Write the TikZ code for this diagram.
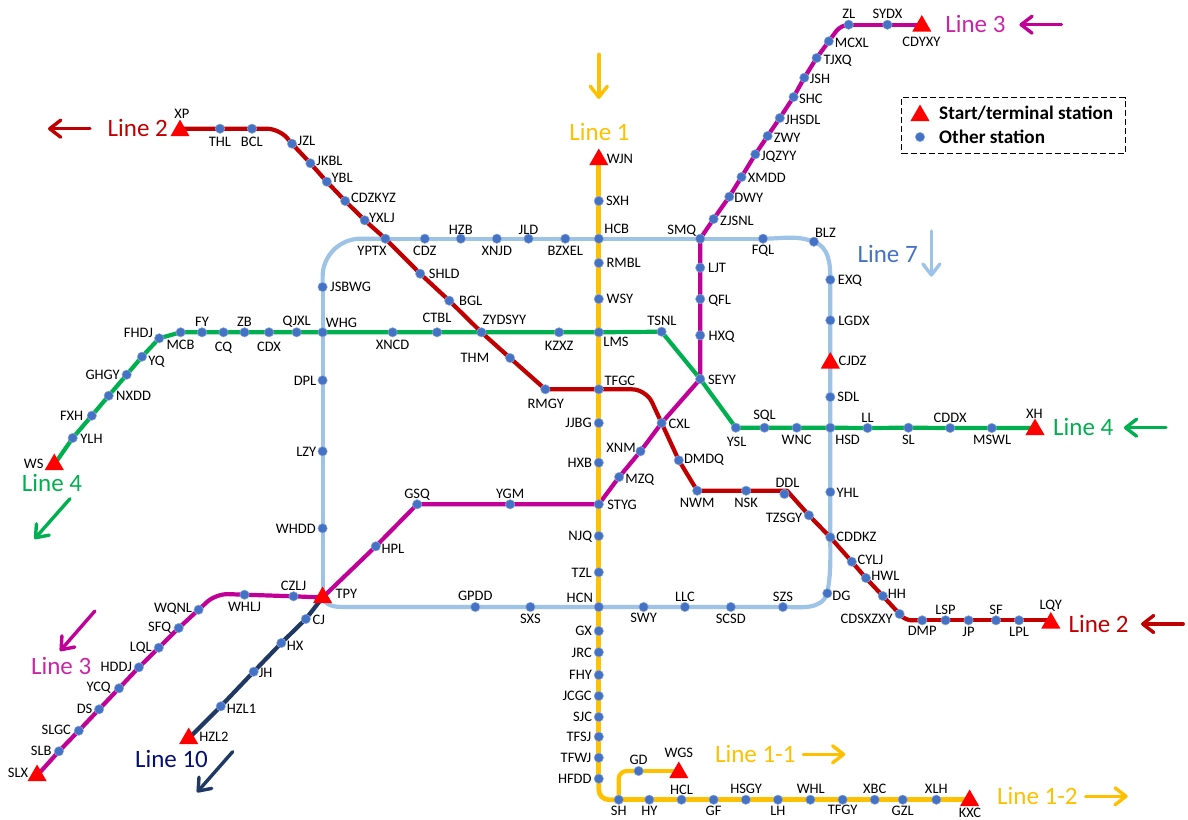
\documentclass[tikz,border=0pt]{standalone}
\usepackage{fontspec}
\setmainfont{Carlito}
\usetikzlibrary{arrows.meta,shapes.geometric,backgrounds}

\definecolor{lineone}{HTML}{FFC000}
\definecolor{linetwo}{HTML}{C00000}
\definecolor{linethree}{HTML}{C00096}
\definecolor{linefour}{HTML}{00B050}
\definecolor{lineseven}{HTML}{9DC3E6}
\definecolor{lineten}{HTML}{1F3864}
\definecolor{dotblue}{HTML}{4472C4}

\tikzset{
  stn/.style={circle, fill=dotblue, draw=dotblue!60, line width=0.5pt, minimum size=9.4pt, inner sep=0pt},
  term/.style={regular polygon, regular polygon sides=3, fill=red, minimum size=22pt, inner sep=0pt},
  txt/.style={inner sep=0pt, font=\fontsize{14.5}{16}\selectfont, text height=9.5pt, text depth=0pt},
  linelabel/.style={inner sep=0pt, font=\fontsize{25}{28}\selectfont, text height=16.5pt, text depth=0pt},
  legendtxt/.style={inner sep=0pt, anchor=west, font=\fontsize{19.2}{22}\bfseries\selectfont},
  metro/.style={line width=4.2pt, line join=round},
  dirarrow/.style={line width=3.4pt, line cap=round, -{Straight Barb[length=11pt,width=17pt,line width=3.4pt,round]}}
}

\begin{document}
\begin{tikzpicture}[x=1pt, y=-1pt]
  \useasboundingbox (0,0) rectangle (1188,819);

  % line 1
  \node[term] (WJN) at (598.8,159.5) {}; \node[txt] (tWJN) at (619.9,159) {WJN};
  \node[stn] (SXH) at (598.8,201) {}; \node[txt] (tSXH) at (617.6,201) {SXH};
  \node[stn] (HCB) at (598.8,238.7) {}; \node[txt] (tHCB) at (616.8,229) {HCB};
  \node[stn] (RMBL) at (598.8,263) {}; \node[txt] (tRMBL) at (623.7,263) {RMBL};
  \node[stn] (WSY) at (598.8,299) {}; \node[txt] (tWSY) at (619.9,299) {WSY};
  \node[stn] (LMS) at (598.8,332.3) {}; \node[txt] (tLMS) at (616,341.7) {LMS};
  \node[stn] (TFGC) at (598.8,389.3) {}; \node[txt] (tTFGC) at (619.9,380.3) {TFGC};
  \node[stn] (JJBG) at (598.8,423) {}; \node[txt] (tJJBG) at (578.6,423) {JJBG};
  \node[stn] (HXB) at (598.8,462.7) {}; \node[txt] (tHXB) at (579.8,462.7) {HXB};
  \node[stn] (STYG) at (598.8,504.3) {}; \node[txt] (tSTYG) at (622.1,504.3) {STYG};
  \node[stn] (NJQ) at (598.8,536) {}; \node[txt] (tNJQ) at (580.2,536) {NJQ};
  \node[stn] (TZL) at (598.8,572.3) {}; \node[txt] (tTZL) at (581.7,572.3) {TZL};
  \node[stn] (HCN) at (598.8,607) {}; \node[txt] (tHCN) at (579.8,597.3) {HCN};
  \node[stn] (GX) at (598.8,631) {}; \node[txt] (tGX) at (583.6,631) {GX};
  \node[stn] (JRC) at (598.8,652.3) {}; \node[txt] (tJRC) at (581.7,652.3) {JRC};
  \node[stn] (FHY) at (598.8,675) {}; \node[txt] (tFHY) at (580.6,675) {FHY};
  \node[stn] (JCGC) at (598.8,696) {}; \node[txt] (tJCGC) at (577.1,696) {JCGC};
  \node[stn] (SJC) at (598.8,717) {}; \node[txt] (tSJC) at (582.5,717) {SJC};
  \node[stn] (TFSJ) at (598.8,736.7) {}; \node[txt] (tTFSJ) at (579,736.7) {TFSJ};
  \node[stn] (TFWJ) at (598.8,757.7) {}; \node[txt] (tTFWJ) at (576,757.7) {TFWJ};
  \node[stn] (HFDD) at (598.8,778.7) {}; \node[txt] (tHFDD) at (574.8,778.7) {HFDD};
  \node[stn] (SH) at (618.7,799.7) {}; \node[txt] (tSH) at (618.7,810.7) {SH};
  \node[stn] (HY) at (649.3,799.7) {}; \node[txt] (tHY) at (649.3,810.7) {HY};
  \node[stn] (HCL) at (681.5,799.7) {}; \node[txt] (tHCL) at (681.5,789.3) {HCL};
  \node[stn] (GF) at (713.6,799.7) {}; \node[txt] (tGF) at (713.6,810.7) {GF};
  \node[stn] (HSGY) at (745.8,799.7) {}; \node[txt] (tHSGY) at (746.1,788.3) {HSGY};
  \node[stn] (LH) at (777.9,799.7) {}; \node[txt] (tLH) at (777.9,810.7) {LH};
  \node[stn] (WHL) at (810.4,799.7) {}; \node[txt] (tWHL) at (810.8,788.3) {WHL};
  \node[stn] (TFGY) at (842.6,799.7) {}; \node[txt] (tTFGY) at (842.6,810) {TFGY};
  \node[stn] (XBC) at (874.7,799.7) {}; \node[txt] (tXBC) at (874.7,788.3) {XBC};
  \node[stn] (GZL) at (902.7,799.7) {}; \node[txt] (tGZL) at (902.7,810.7) {GZL};
  \node[stn] (XLH) at (936.3,799.7) {}; \node[txt] (tXLH) at (936.3,788.3) {XLH};
  \node[term] (KXC) at (969.6,800.5) {}; \node[txt] (tKXC) at (970,812.7) {KXC};
  \node[stn] (GD) at (638.6,771) {}; \node[txt] (tGD) at (638.6,759.7) {GD};
  \node[term] (WGS) at (678.8,772.5) {}; \node[txt] (tWGS) at (678.8,752.3) {WGS};

  % line 2
  \node[term] (XP) at (180,130.6) {}; \node[txt] (tXP) at (181.8,113.7) {XP};
  \node[stn] (THL) at (220,128.7) {}; \node[txt] (tTHL) at (220,141.7) {THL};
  \node[stn] (BCL) at (252,128.7) {}; \node[txt] (tBCL) at (251.8,141.7) {BCL};
  \node[stn] (JZL) at (292,143.7) {}; \node[txt] (tJZL) at (306.5,140.7) {JZL};
  \node[stn] (JKBL) at (310.4,163.3) {}; \node[txt] (tJKBL) at (329.5,160.3) {JKBL};
  \node[stn] (YBL) at (326.8,181.7) {}; \node[txt] (tYBL) at (342.1,178) {YBL};
  \node[stn] (CDZKYZ) at (345.2,201) {}; \node[txt] (tCDZKYZ) at (373.5,197.7) {CDZKYZ};
  \node[stn] (YXLJ) at (364.7,220.3) {}; \node[txt] (tYXLJ) at (381.9,217.3) {YXLJ};
  \node[stn] (YPTX) at (385.4,238.7) {}; \node[txt] (tYPTX) at (372,250.3) {YPTX};
  \node[stn] (SHLD) at (420.2,273.7) {}; \node[txt] (tSHLD) at (444.3,273.7) {SHLD};
  \node[stn] (BGL) at (449.3,300.7) {}; \node[txt] (tBGL) at (470.7,300.7) {BGL};
  \node[stn] (ZYDSYY) at (481.4,332.3) {}; \node[txt] (tZYDSYY) at (504.4,320) {ZYDSYY};
  \node[stn] (THM) at (510.1,358) {}; \node[txt] (tTHM) at (474.9,358) {THM};
  \node[stn] (RMGY) at (545.3,389.3) {}; \node[txt] (tRMGY) at (545.7,403.3) {RMGY};
  \node[stn] (CXL) at (661.6,423) {}; \node[txt] (tCXL) at (679.2,423.3) {CXL};
  \node[stn] (DMDQ) at (678.8,460.3) {}; \node[txt] (tDMDQ) at (704,459) {DMDQ};
  \node[stn] (NWM) at (697.2,490.7) {}; \node[txt] (tNWM) at (697.2,503) {NWM};
  \node[stn] (NSK) at (746.1,490.7) {}; \node[txt] (tNSK) at (746.1,503) {NSK};
  \node[stn] (DDL) at (784.4,494) {}; \node[txt] (tDDL) at (787.5,483) {DDL};
  \node[stn] (TZSGY) at (808.9,515.3) {}; \node[txt] (tTZSGY) at (784,518) {TZSGY};
  \node[stn] (CDDKZ) at (830.3,537.3) {}; \node[txt] (tCDDKZ) at (856.4,536.7) {CDDKZ};
  \node[stn] (CYLJ) at (851.8,561.7) {}; \node[txt] (tCYLJ) at (870.5,559.7) {CYLJ};
  \node[stn] (HWL) at (865.9,578) {}; \node[txt] (tHWL) at (885.4,576) {HWL};
  \node[stn] (HH) at (882.8,596) {}; \node[txt] (tHH) at (896.9,594) {HH};
  \node[stn] (CDSXZXY) at (899.6,614) {}; \node[txt] (tCDSXZXY) at (866.7,618.3) {CDSXZXY};
  \node[stn] (DMP) at (922.2,620.3) {}; \node[txt] (tDMP) at (922.2,630.7) {DMP};
  \node[stn] (LSP) at (945.5,620.3) {}; \node[txt] (tLSP) at (945.5,610) {LSP};
  \node[stn] (JP) at (968.5,620.3) {}; \node[txt] (tJP) at (968.5,632) {JP};
  \node[stn] (SF) at (996,620.3) {}; \node[txt] (tSF) at (996,610) {SF};
  \node[stn] (LPL) at (1019,620.3) {}; \node[txt] (tLPL) at (1019,631.7) {LPL};
  \node[term] (LQY) at (1050.8,623) {}; \node[txt] (tLQY) at (1050.8,605) {LQY};

  % line 3
  \node[term] (CDYXY) at (921.8,26) {}; \node[txt] (tCDYXY) at (921.4,42) {CDYXY};
  \node[stn] (SYDX) at (887.4,24.7) {}; \node[txt] (tSYDX) at (887.4,13.7) {SYDX};
  \node[stn] (ZL) at (848.7,24.7) {}; \node[txt] (tZL) at (848.7,14) {ZL};
  \node[stn] (MCXL) at (828.8,41.3) {}; \node[txt] (tMCXL) at (851.8,42.3) {MCXL};
  \node[stn] (TJXQ) at (816.6,58) {}; \node[txt] (tTJXQ) at (837.6,60) {TJXQ};
  \node[stn] (JSH) at (804.3,77.7) {}; \node[txt] (tJSH) at (820,78.7) {JSH};
  \node[stn] (SHC) at (793.6,97) {}; \node[txt] (tSHC) at (810.8,99) {SHC};
  \node[stn] (JHSDL) at (779.8,118) {}; \node[txt] (tJHSDL) at (802.8,120) {JHSDL};
  \node[stn] (ZWY) at (767.6,136) {}; \node[txt] (tZWY) at (787.1,137.7) {ZWY};
  \node[stn] (JQZYY) at (755.3,154.3) {}; \node[txt] (tJQZYY) at (778.7,155.3) {JQZYY};
  \node[stn] (XMDD) at (741.5,177) {}; \node[txt] (tXMDD) at (766.8,178) {XMDD};
  \node[stn] (DWY) at (729.3,196.7) {}; \node[txt] (tDWY) at (748.8,197.7) {DWY};
  \node[stn] (ZJSNL) at (713.6,219) {}; \node[txt] (tZJSNL) at (737,220.3) {ZJSNL};
  \node[stn] (SMQ) at (700.2,238.7) {}; \node[txt] (tSMQ) at (681.8,229.7) {SMQ};
  \node[stn] (LJT) at (700.2,267.7) {}; \node[txt] (tLJT) at (717,267.7) {LJT};
  \node[stn] (QFL) at (700.2,299) {}; \node[txt] (tQFL) at (719.7,299.3) {QFL};
  \node[stn] (HXQ) at (700.2,335.3) {}; \node[txt] (tHXQ) at (721.6,335.3) {HXQ};
  \node[stn] (SEYY) at (700.2,379) {}; \node[txt] (tSEYY) at (722,379.3) {SEYY};
  \node[stn] (XNM) at (640.5,451.3) {}; \node[txt] (tXNM) at (621,448) {XNM};
  \node[stn] (MZQ) at (619.1,477) {}; \node[txt] (tMZQ) at (639.8,478.3) {MZQ};
  \node[stn] (YGM) at (510.1,504.3) {}; \node[txt] (tYGM) at (510.1,493.7) {YGM};
  \node[stn] (GSQ) at (417.1,504.3) {}; \node[txt] (tGSQ) at (417.1,493.7) {GSQ};
  \node[stn] (HPL) at (375.8,546.3) {}; \node[txt] (tHPL) at (393,549) {HPL};
  \node[term] (TPY) at (322.6,597.5) {}; \node[txt] (tTPY) at (346.3,593.3) {TPY};
  \node[stn] (CZLJ) at (293.5,596.3) {}; \node[txt] (tCZLJ) at (293.5,585.3) {CZLJ};
  \node[stn] (WHLJ) at (244.5,594.7) {}; \node[txt] (tWHLJ) at (244.5,606.7) {WHLJ};
  \node[stn] (WQNL) at (198.6,609.7) {}; \node[txt] (tWQNL) at (173,607.3) {WQNL};
  \node[stn] (SFQ) at (178.7,628) {}; \node[txt] (tSFQ) at (159.6,626.3) {SFQ};
  \node[stn] (LQL) at (158.8,647.7) {}; \node[txt] (tLQL) at (140.8,646.7) {LQL};
  \node[stn] (HDDJ) at (138.9,667.3) {}; \node[txt] (tHDDJ) at (116.3,666.3) {HDDJ};
  \node[stn] (YCQ) at (119,688.3) {}; \node[txt] (tYCQ) at (98.7,686.3) {YCQ};
  \node[stn] (DS) at (99.1,709.3) {}; \node[txt] (tDS) at (84.6,708.7) {DS};
  \node[stn] (SLGC) at (78.8,730.7) {}; \node[txt] (tSLGC) at (56.3,730) {SLGC};
  \node[stn] (SLB) at (58.9,751.3) {}; \node[txt] (tSLB) at (41.3,751) {SLB};
  \node[term] (SLX) at (37.1,775.5) {}; \node[txt] (tSLX) at (18,772.7) {SLX};

  % line 4
  \node[term] (WS) at (54.3,464.5) {}; \node[txt] (tWS) at (33.7,463.3) {WS};
  \node[stn] (YLH) at (72.7,438) {}; \node[txt] (tYLH) at (91.5,439) {YLH};
  \node[stn] (FXH) at (91.8,415.7) {}; \node[txt] (tFXH) at (71.6,416) {FXH};
  \node[stn] (NXDD) at (108.7,395.7) {}; \node[txt] (tNXDD) at (133.6,395.7) {NXDD};
  \node[stn] (GHGY) at (126.7,374.7) {}; \node[txt] (tGHGY) at (102.6,374.7) {GHGY};
  \node[stn] (YQ) at (142,356.7) {}; \node[txt] (tYQ) at (156.5,360.7) {YQ};
  \node[stn] (FHDJ) at (159.2,338.3) {}; \node[txt] (tFHDJ) at (138.5,332.7) {FHDJ};
  \node[stn] (MCB) at (180.6,332.3) {}; \node[txt] (tMCB) at (180.6,345) {MCB};
  \node[stn] (FY) at (202,332.3) {}; \node[txt] (tFY) at (202,322) {FY};
  \node[stn] (CQ) at (223.5,332.3) {}; \node[txt] (tCQ) at (223.5,346.3) {CQ};
  \node[stn] (ZB) at (244.5,332.3) {}; \node[txt] (tZB) at (244.5,322) {ZB};
  \node[stn] (CDX) at (269,332.3) {}; \node[txt] (tCDX) at (269,346.3) {CDX};
  \node[stn] (QJXL) at (296.6,332.3) {}; \node[txt] (tQJXL) at (296.6,320.7) {QJXL};
  \node[stn] (WHG) at (322.6,332.3) {}; \node[txt] (tWHG) at (341.4,322.7) {WHG};
  \node[stn] (XNCD) at (392.6,332.3) {}; \node[txt] (tXNCD) at (392.6,344.3) {XNCD};
  \node[stn] (CTBL) at (437,332.3) {}; \node[txt] (tCTBL) at (437,317.7) {CTBL};
  \node[stn] (KZXZ) at (559,332.3) {}; \node[txt] (tKZXZ) at (559.1,345.3) {KZXZ};
  \node[stn] (TSNL) at (661.6,331.7) {}; \node[txt] (tTSNL) at (662,320.7) {TSNL};
  \node[stn] (YSL) at (735.8,427.7) {}; \node[txt] (tYSL) at (736.6,441.7) {YSL};
  \node[stn] (SQL) at (764.5,427.7) {}; \node[txt] (tSQL) at (764.5,415) {SQL};
  \node[stn] (WNC) at (796.7,427.7) {}; \node[txt] (tWNC) at (796.7,440) {WNC};
  \node[stn] (HSD) at (830.3,427.7) {}; \node[txt] (tHSD) at (847.6,440) {HSD};
  \node[stn] (LL) at (867.5,428) {}; \node[txt] (tLL) at (867.5,418) {LL};
  \node[stn] (SL) at (908.4,427.7) {}; \node[txt] (tSL) at (908.4,440) {SL};
  \node[stn] (CDDX) at (950.1,428) {}; \node[txt] (tCDDX) at (950.1,418) {CDDX};
  \node[stn] (MSWL) at (991.8,428) {}; \node[txt] (tMSWL) at (992.2,439.7) {MSWL};
  \node[term] (XH) at (1035,429.5) {}; \node[txt] (tXH) at (1034.3,413.3) {XH};

  % line 7
  \node[stn] (CDZ) at (424.8,238.7) {}; \node[txt] (tCDZ) at (424.8,250.3) {CDZ};
  \node[stn] (HZB) at (460.8,238.7) {}; \node[txt] (tHZB) at (460.8,229.3) {HZB};
  \node[stn] (XNJD) at (496.8,238.7) {}; \node[txt] (tXNJD) at (496.8,250.3) {XNJD};
  \node[stn] (JLD) at (528.5,238.7) {}; \node[txt] (tJLD) at (528.5,229.3) {JLD};
  \node[stn] (BZXEL) at (565.3,238.7) {}; \node[txt] (tBZXEL) at (565.3,250.3) {BZXEL};
  \node[stn] (FQL) at (763,238.7) {}; \node[txt] (tFQL) at (763,249.7) {FQL};
  \node[stn] (BLZ) at (813.9,241.7) {}; \node[txt] (tBLZ) at (825.4,232.7) {BLZ};
  \node[stn] (EXQ) at (830.3,279.7) {}; \node[txt] (tEXQ) at (849.9,279.7) {EXQ};
  \node[stn] (LGDX) at (830.3,320.3) {}; \node[txt] (tLGDX) at (854,320.3) {LGDX};
  \node[term] (CJDZ) at (830.3,363) {}; \node[txt] (tCJDZ) at (852.5,361) {CJDZ};
  \node[stn] (SDL) at (830.3,397) {}; \node[txt] (tSDL) at (848.3,397) {SDL};
  \node[stn] (YHL) at (830.3,492) {}; \node[txt] (tYHL) at (847.6,492.3) {YHL};
  \node[stn] (DG) at (827.3,593.3) {}; \node[txt] (tDG) at (841.4,595.7) {DG};
  \node[stn] (SZS) at (782.9,607) {}; \node[txt] (tSZS) at (782.9,596.3) {SZS};
  \node[stn] (SCSD) at (730.8,607) {}; \node[txt] (tSCSD) at (730.8,618.3) {SCSD};
  \node[stn] (LLC) at (684.9,607) {}; \node[txt] (tLLC) at (684.9,596.3) {LLC};
  \node[stn] (SWY) at (643.6,607) {}; \node[txt] (tSWY) at (643.6,618) {SWY};
  \node[stn] (SXS) at (530.4,607) {}; \node[txt] (tSXS) at (530.4,618.7) {SXS};
  \node[stn] (GPDD) at (475.3,607) {}; \node[txt] (tGPDD) at (475.3,596) {GPDD};
  \node[stn] (WHDD) at (322.6,528.3) {}; \node[txt] (tWHDD) at (295.8,528.3) {WHDD};
  \node[stn] (LZY) at (322.6,451.3) {}; \node[txt] (tLZY) at (306.2,451.3) {LZY};
  \node[stn] (DPL) at (322.6,380.3) {}; \node[txt] (tDPL) at (305,380.3) {DPL};
  \node[stn] (JSBWG) at (322.6,287) {}; \node[txt] (tJSBWG) at (350.6,287) {JSBWG};

  % line 10
  \node[stn] (CJ) at (305.8,619) {}; \node[txt] (tCJ) at (318.8,619.7) {CJ};
  \node[stn] (HX) at (281.3,643) {}; \node[txt] (tHX) at (295.1,645.7) {HX};
  \node[stn] (JH) at (253.7,671.7) {}; \node[txt] (tJH) at (265.6,672.7) {JH};
  \node[stn] (HZL1) at (220.8,706.3) {}; \node[txt] (tHZL1) at (241.5,708.7) {HZL1};
  \node[term] (HZL2) at (188.7,738.5) {}; \node[txt] (tHZL2) at (213.9,736.7) {HZL2};

  % corners of the lines
  \coordinate (cnNW) at (322.6,238.7);
  \coordinate (cnSW) at (344,607);
  \coordinate (cnS) at (598.8,799.7);
  \coordinate (cnGD) at (618.7,771);
  \coordinate (cnJZL) at (279,128.7);
  \coordinate (cnTFGC) at (646,389.3);
  \coordinate (cnDDL) at (787,490.7);
  \coordinate (cnDMP) at (905.5,620.3);
  \coordinate (cnZL) at (841,24.7);
  \coordinate (cnWQNL) at (216,593.7);

  \begin{scope}[on background layer]
    \draw[metro, lineseven, rounded corners=38pt] (JSBWG.center) -- (cnNW) -- (YPTX.center);
    \draw[metro, lineseven] (YPTX.center) -- (CDZ.center) -- (HZB.center) -- (XNJD.center) -- (JLD.center) -- (BZXEL.center) -- (HCB.center) -- (SMQ.center) -- (FQL.center);
    \draw[metro, lineseven] (FQL.center) to[out=0, in=160] (BLZ.center) to[out=-20, in=90] (EXQ.center) -- (LGDX.center) -- (CJDZ.center) -- (SDL.center) -- (HSD.center) -- (YHL.center) -- (CDDKZ.center) to[out=-90, in=80] (DG.center) to[out=-110, in=0] (SZS.center) -- (SCSD.center) -- (LLC.center) -- (SWY.center) -- (HCN.center) -- (SXS.center) -- (GPDD.center);
    \draw[metro, lineseven] (GPDD.center) -- (cnSW) to[out=180, in=-70] (TPY.center);
    \draw[metro, lineseven] (TPY.center) -- (WHDD.center) -- (LZY.center) -- (DPL.center) -- (WHG.center) -- (JSBWG.center);

    \draw[metro, linetwo, rounded corners=12pt] (XP |- THL) -- (THL.center) -- (BCL.center) -- (cnJZL) -- (JZL.center);
    \draw[metro, linetwo] (JZL.center) -- (JKBL.center) -- (YBL.center) -- (CDZKYZ.center) -- (YXLJ.center) -- (YPTX.center) -- (SHLD.center) -- (BGL.center) -- (ZYDSYY.center) -- (THM.center) -- (RMGY.center) -- (TFGC.center);
    \draw[metro, linetwo, rounded corners=14pt] (TFGC.center) -- (cnTFGC) -- (CXL.center);
    \draw[metro, linetwo] (CXL.center) -- (DMDQ.center) -- (NWM.center) -- (NSK.center) -- (cnDDL) -- (TZSGY.center) -- (CDDKZ.center) -- (CYLJ.center) -- (HWL.center) -- (HH.center) -- (CDSXZXY.center);
    \draw[metro, linetwo, rounded corners=6pt] (CDSXZXY.center) -- (cnDMP) -- (DMP.center);
    \draw[metro, linetwo] (DMP.center) -- (LSP.center) -- (JP.center) -- (SF.center) -- (LPL.center) -- (LQY |- LPL);

    \draw[metro, linethree] (CDYXY |- SYDX) -- (SYDX.center) -- (ZL.center);
    \draw[metro, linethree, rounded corners=8pt] (ZL.center) -- (cnZL) -- (MCXL.center);
    \draw[metro, linethree] (MCXL.center) -- (TJXQ.center) -- (JSH.center) -- (SHC.center) -- (JHSDL.center) -- (ZWY.center) -- (JQZYY.center) -- (XMDD.center) -- (DWY.center) -- (ZJSNL.center) -- (SMQ.center) -- (LJT.center) -- (QFL.center) -- (HXQ.center) -- (SEYY.center) -- (CXL.center) -- (XNM.center) -- (MZQ.center) -- (STYG.center) -- (YGM.center) -- (GSQ.center) -- (HPL.center) -- (TPY.center) -- (CZLJ.center) -- (WHLJ.center);
    \draw[metro, linethree, rounded corners=12pt] (WHLJ.center) -- (cnWQNL) -- (WQNL.center);
    \draw[metro, linethree] (WQNL.center) -- (SFQ.center) -- (LQL.center) -- (HDDJ.center) -- (YCQ.center) -- (DS.center) -- (SLGC.center) -- (SLB.center) -- (SLX.center);

    \draw[metro, linefour] (WS.center) -- (YLH.center) -- (FXH.center) -- (NXDD.center) -- (GHGY.center) -- (YQ.center) -- (FHDJ.center) -- (MCB.center) -- (FY.center) -- (CQ.center) -- (ZB.center) -- (CDX.center) -- (QJXL.center) -- (WHG.center) -- (XNCD.center) -- (CTBL.center) -- (ZYDSYY.center) -- (KZXZ.center) -- (LMS.center) -- (TSNL.center) -- (SEYY.center) -- (YSL.center) -- (SQL.center) -- (WNC.center) -- (HSD.center) -- (LL.center) -- (SL.center) -- (CDDX.center) -- (MSWL.center) -- (XH |- MSWL);

    \draw[metro, lineten] (TPY.center) -- (CJ.center) -- (HX.center) -- (JH.center) -- (HZL1.center) -- (HZL2.center);

    \draw[metro, lineone, line width=4.7pt] (WJN.center) -- (SXH.center) -- (HCB.center) -- (RMBL.center) -- (WSY.center) -- (LMS.center) -- (TFGC.center) -- (JJBG.center) -- (HXB.center) -- (STYG.center) -- (NJQ.center) -- (TZL.center) -- (HCN.center) -- (GX.center) -- (JRC.center) -- (FHY.center) -- (JCGC.center) -- (SJC.center) -- (TFSJ.center) -- (TFWJ.center) -- (HFDD.center);
    \draw[metro, lineone, line width=4.7pt, rounded corners=10pt] (HFDD.center) -- (cnS) -- (SH.center);
    \draw[metro, lineone, line width=4.7pt] (SH.center) -- (HY.center) -- (HCL.center) -- (GF.center) -- (HSGY.center) -- (LH.center) -- (WHL.center) -- (TFGY.center) -- (XBC.center) -- (GZL.center) -- (XLH.center) -- (KXC |- XLH);
    \draw[metro, lineone, rounded corners=8pt] (SH.center) -- (cnGD) -- (GD.center);
    \draw[metro, lineone] (GD.center) -- (WGS |- GD);
  \end{scope}

  % line names and directions
  \node[linelabel, text=lineone] (nameOne) at (599.5,132) {Line 1};
  \node[linelabel, text=lineone] (nameOneA) at (755.3,754.3) {Line 1-1};
  \node[linelabel, text=lineone] (nameOneB) at (1037.4,796.3) {Line 1-2};
  \node[linelabel, text=linetwo] (nameTwoA) at (137.8,128.3) {Line 2};
  \node[linelabel, text=linetwo] (nameTwoB) at (1098.6,624) {Line 2};
  \node[linelabel, text=linethree!85!white] (nameThreeA) at (975.4,24.7) {Line 3};
  \node[linelabel, text=linethree!85!white] (nameThreeB) at (61.2,666.3) {Line 3};
  \node[linelabel, text=linefour] (nameFourA) at (52,483.3) {Line 4};
  \node[linelabel, text=linefour] (nameFourB) at (1083.3,427.3) {Line 4};
  \node[linelabel, text=dotblue] (nameSeven) at (887.7,254) {Line 7};
  \node[linelabel, text=lineten!40!blue!60!black] (nameTen) at (171.5,759.3) {Line 10};

  \coordinate (arOneS) at (598.8,54.3); \coordinate (arOneE) at (598.8,99);
  \coordinate (arOneAS) at (803.2,754.3); \coordinate (arOneAE) at (845.3,754.3);
  \coordinate (arOneBS) at (1085.6,796.3); \coordinate (arOneBE) at (1127.7,796.3);
  \coordinate (arTwoAS) at (90,128.7); \coordinate (arTwoAE) at (48,128.7);
  \coordinate (arTwoBS) at (1183.2,624); \coordinate (arTwoBE) at (1141,624);
  \coordinate (arThreeAS) at (1061.5,24.7); \coordinate (arThreeAE) at (1019.4,24.7);
  \coordinate (arThreeBS) at (94.9,611); \coordinate (arThreeBE) at (60,651);
  \coordinate (arFourAS) at (70,498.7); \coordinate (arFourAE) at (34.4,539);
  \coordinate (arFourBS) at (1166,427.7); \coordinate (arFourBE) at (1123.9,427.7);
  \coordinate (arSevenS) at (931.4,231); \coordinate (arSevenE) at (931.4,276.7);
  \coordinate (arTenS) at (232.7,751.7); \coordinate (arTenE) at (197,792.3);
  \draw[dirarrow, lineone] (arOneS) -- (arOneE);
  \draw[dirarrow, lineone] (arOneAS) -- (arOneAE);
  \draw[dirarrow, lineone] (arOneBS) -- (arOneBE);
  \draw[dirarrow, linetwo] (arTwoAS) -- (arTwoAE);
  \draw[dirarrow, linetwo] (arTwoBS) -- (arTwoBE);
  \draw[dirarrow, linethree] (arThreeAS) -- (arThreeAE);
  \draw[dirarrow, linethree] (arThreeBS) -- (arThreeBE);
  \draw[dirarrow, linefour] (arFourAS) -- (arFourAE);
  \draw[dirarrow, linefour] (arFourBS) -- (arFourBE);
  \draw[dirarrow, lineseven] (arSevenS) -- (arSevenE);
  \draw[dirarrow, lineten] (arTenS) -- (arTenE);

  % legend
  \node[draw, line width=1pt, dash pattern=on 6pt off 3pt, minimum width=223.5pt, minimum height=55.7pt, inner sep=0pt] (legendbox) at (1013.3,125.8) {};
  \node[term] (legendterm) at (920,115.5) {};
  \node[stn] (legendstn) at (920,137) {};
  \node[legendtxt] (legendterm text) at (939,112.7) {Start/terminal station};
  \node[legendtxt] (legendstn text) at (939,137) {Other station};
\end{tikzpicture}
\end{document}
